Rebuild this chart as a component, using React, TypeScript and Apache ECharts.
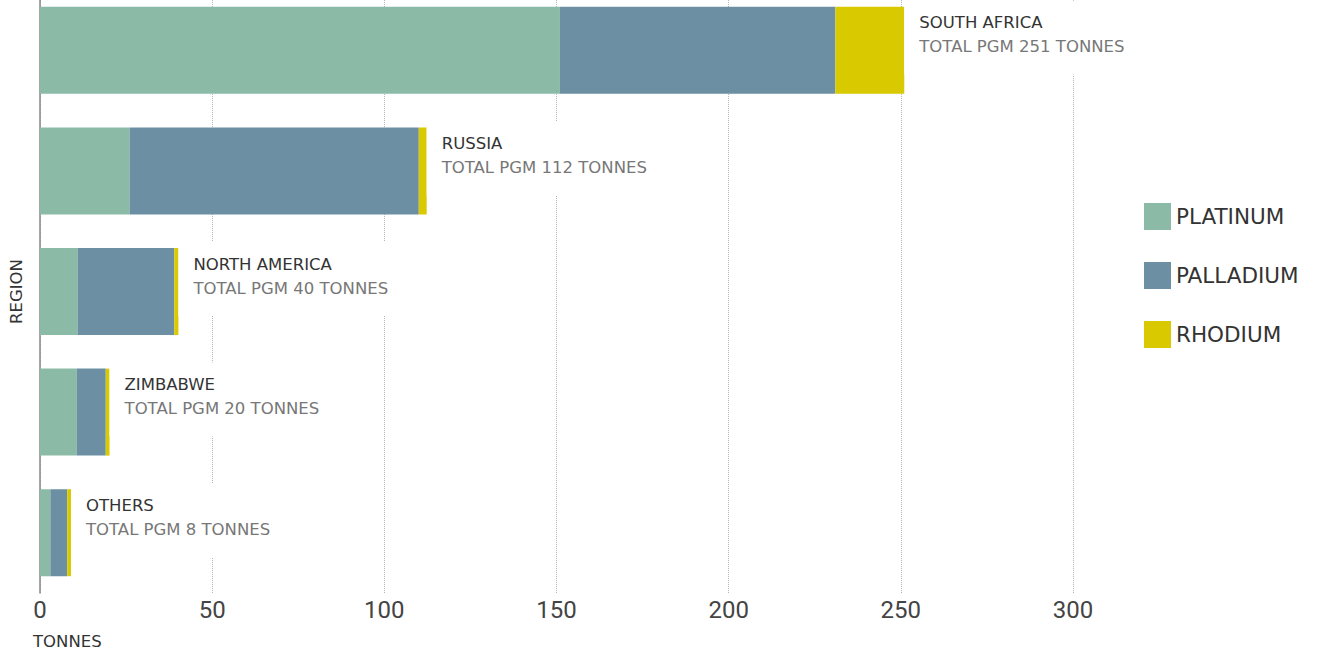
import React, { useEffect, useRef } from "react";
import * as echarts from "echarts";

const regions = ["SOUTH AFRICA", "RUSSIA", "NORTH AMERICA", "ZIMBABWE", "OTHERS"];
const platinum = [151, 26, 11, 10.7, 3];
const palladium = [80, 84, 28, 8.4, 4.9];
const rhodium = [20, 2.3, 1.2, 1.1, 1.1];
const totals = [251, 112, 40, 20, 8];
const xTicks = [0, 50, 100, 150, 200, 250, 300];

const FONT = "'DejaVu Sans', Roboto, sans-serif";
const COLORS = ["#8bbba7", "#6d8fa3", "#d9c900"];

export default function App() {
  const ref = useRef<HTMLDivElement>(null);
  useEffect(() => {
    document.body.style.margin = "0";
    const chart = echarts.init(ref.current!, null, { renderer: "svg" });
    const label = {
      show: true,
      position: "right",
      distance: 0,
      offset: [0, -12.5],
      backgroundColor: "#fff",
      padding: [10, 8, 16, 15],
      formatter: (p: any) =>
        `{n|${regions[p.dataIndex]}}\n{t|TOTAL PGM ${totals[p.dataIndex]} TONNES}`,
      rich: {
        n: { fontSize: 16.5, color: "#333", lineHeight: 24, fontFamily: FONT },
        t: { fontSize: 16.5, color: "#777", lineHeight: 24, fontFamily: FONT },
      },
    };
    chart.setOption({
      animation: false,
      grid: { left: 40, width: 1033, top: -10, bottom: 62, containLabel: false, outerBoundsMode: "none" },
      legend: {
        orient: "vertical",
        left: 1139,
        top: 198,
        itemWidth: 27,
        itemHeight: 27,
        itemGap: 32,
        icon: "rect",
        textStyle: { fontSize: 21.5, color: "#333", fontFamily: FONT },
        data: ["PLATINUM", "PALLADIUM", "RHODIUM"],
      },
      xAxis: {
        type: "value",
        min: 0,
        max: xTicks[xTicks.length - 1],
        interval: 50,
        axisLine: { show: false },
        axisTick: { show: false },
        axisLabel: {
          fontSize: 24,
          color: "#444",
          margin: 5,
          fontFamily: "Roboto, sans-serif",
        },
        splitLine: { show: true, lineStyle: { type: "dotted", color: "#b5b5b5", width: 1 } },
      },
      yAxis: {
        type: "category",
        data: regions,
        inverse: true,
        name: "REGION",
        nameLocation: "middle",
        nameRotate: 90,
        nameGap: 15,
        nameTextStyle: { fontSize: 16.5, color: "#333", fontFamily: FONT },
        axisLine: { show: true, lineStyle: { color: "#888", width: 1.5 } },
        axisTick: { show: false },
        axisLabel: { show: false },
      },
      graphic: [
        {
          type: "text",
          left: 33,
          top: 633,
          style: { text: "TONNES", fontSize: 16.5, fill: "#333", fontFamily: FONT },
        },
      ],
      series: [
        { name: "PLATINUM", type: "bar", stack: "t", data: platinum, barWidth: 87, itemStyle: { color: COLORS[0] } },
        { name: "PALLADIUM", type: "bar", stack: "t", data: palladium, barWidth: 87, itemStyle: { color: COLORS[1] } },
        { name: "RHODIUM", type: "bar", stack: "t", data: rhodium, barWidth: 87, itemStyle: { color: COLORS[2] }, label },
      ],
    });
    return () => chart.dispose();
  }, []);
  return <div ref={ref} style={{ width: 1320, height: 655 }} />;
}
